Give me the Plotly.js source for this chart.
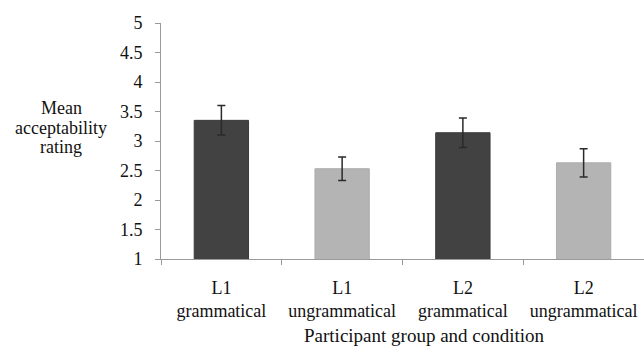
<!DOCTYPE html>
<html>
<head>
<meta charset="utf-8">
<script src="https://cdn.plot.ly/plotly-3.0.1.min.js"></script>
<style>html,body{margin:0;padding:0;background:#fff;}#chart{width:644px;height:346px;}</style>
</head>
<body>
<div id="chart"></div>
<script>
const categories = ["L1<br>grammatical", "L1<br>ungrammatical", "L2<br>grammatical", "L2<br>ungrammatical"];
const meanRatings = [3.35, 2.53, 3.14, 2.63];
const errorValues = [0.25, 0.20, 0.25, 0.24];
const yTickValues = [1, 1.5, 2, 2.5, 3, 3.5, 4, 4.5, 5];
const yTickLabels = ["1", "1.5", "2", "2.5", "3", "3.5", "4", "4.5", "5"];
const yTitleLines = ["Mean", "acceptability", "rating"];
const xTitle = "Participant group and condition";

const dark = "#424242", light = "#b4b4b4";
const barColors = categories.map((c, i) => i % 2 === 0 ? dark : light);
const lineColors = categories.map((c, i) => i % 2 === 0 ? "#3a3a3a" : "#acacac");
const serifFamily = "Liberation Serif";
const textColor = "#111";

const trace = {
  type: "bar",
  x: categories,
  y: meanRatings,
  marker: {color: barColors, line: {color: lineColors, width: 1}},
  width: 0.45,
  error_y: {type: "data", array: errorValues, visible: true, color: "#2a2a2a", thickness: 1.5, width: 4},
  hoverinfo: "none"
};

// plot area: x 161..644 px, y 23..259 px
const px2x = p => (p - 161) / 483;
const px2y = p => (259 - p) / 236;

const annotations = yTitleLines.map((t, i) => ({
  xref: "paper", yref: "paper", x: px2x(61), y: px2y(108 + i * 19.5),
  xanchor: "center", yanchor: "middle", text: t, showarrow: false,
  font: {family: serifFamily, size: 18, color: textColor}
}));
annotations.push({
  xref: "paper", yref: "paper", x: px2x(424), y: px2y(335), xanchor: "center", yanchor: "middle",
  text: xTitle, showarrow: false, font: {family: serifFamily, size: 19, color: textColor}
});

const layout = {
  width: 644, height: 346,
  margin: {l: 161, r: 0, t: 23, b: 87},
  paper_bgcolor: "#fff", plot_bgcolor: "#fff",
  showlegend: false,
  font: {family: serifFamily, color: textColor, size: 18},
  xaxis: {
    type: "category",
    tickson: "boundaries",
    ticks: "outside", ticklen: 5, tickcolor: "#9a9a9a", tickwidth: 1,
    showline: true, linecolor: "#9a9a9a", linewidth: 1,
    showgrid: false, zeroline: false,
    ticklabelstandoff: 12,
    tickfont: {family: serifFamily, size: 18, color: textColor}
  },
  yaxis: {
    range: [1, 5],
    tickvals: yTickValues, ticktext: yTickLabels,
    ticks: "outside", ticklen: 5, tickcolor: "#9a9a9a", tickwidth: 1,
    showline: true, linecolor: "#9a9a9a", linewidth: 1,
    showgrid: false, zeroline: false,
    ticklabelstandoff: 9,
    tickfont: {family: serifFamily, size: 18, color: textColor}
  },
  annotations: annotations
};

Plotly.newPlot("chart", [trace], layout, {displayModeBar: false, staticPlot: true});
</script>
</body>
</html>
